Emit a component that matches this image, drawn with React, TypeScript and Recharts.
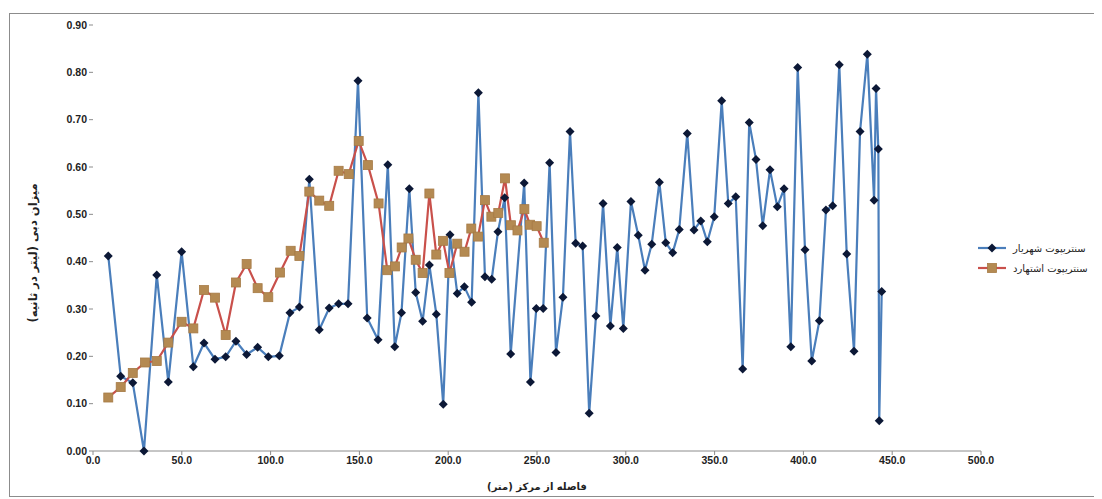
import { LineChart, Line, XAxis, YAxis } from 'recharts';

// distance from centre (m) and flow (l/s)
const shahriarDist = [
  8.6, 15.6, 22.4, 28.7, 35.9, 42.4, 49.9, 56.5, 62.5, 68.7, 74.7, 80.5, 86.5, 92.7, 98.7, 104.9, 110.9,
  116.2, 121.8, 127.4, 133.0, 138.3, 143.6, 149.2, 154.4, 160.5, 166.0, 169.9, 173.7, 178.1, 181.7, 185.6,
  189.4, 193.3, 197.2, 201.0, 205.1, 209.1, 213.2, 217.0, 220.7, 224.5, 228.0, 231.8, 235.2, 242.8, 246.3,
  249.6, 253.5, 257.1, 260.7, 264.6, 268.6, 271.8, 275.7, 279.4, 283.2, 287.2, 291.3, 295.2, 298.6, 302.9,
  307.0, 310.8, 314.6, 318.9, 322.5, 326.4, 330.1, 334.6, 338.4, 342.2, 345.9, 349.8, 354.0, 357.7, 361.9,
  365.8, 369.5, 373.3, 377.1, 381.2, 385.3, 389.1, 392.9, 396.8, 400.9, 404.7, 409.0, 412.7, 416.5, 420.2,
  424.4, 428.5, 431.9, 436.0, 439.8, 440.9, 442.2, 442.7, 444.1,
];
const shahriarFlow = [
  0.412, 0.158, 0.144, 0.0, 0.372, 0.146, 0.421, 0.178, 0.228, 0.194, 0.199, 0.232, 0.204, 0.219, 0.199,
  0.201, 0.292, 0.304, 0.574, 0.256, 0.302, 0.311, 0.311, 0.782, 0.281, 0.235, 0.605, 0.22, 0.292, 0.554,
  0.335, 0.274, 0.393, 0.289, 0.099, 0.457, 0.333, 0.347, 0.314, 0.757, 0.368, 0.363, 0.463, 0.535, 0.205,
  0.566, 0.146, 0.301, 0.301, 0.609, 0.208, 0.325, 0.675, 0.439, 0.433, 0.08, 0.285, 0.523, 0.264, 0.43,
  0.259, 0.527, 0.456, 0.382, 0.437, 0.568, 0.44, 0.419, 0.468, 0.671, 0.467, 0.486, 0.442, 0.495, 0.74,
  0.523, 0.537, 0.173, 0.694, 0.616, 0.476, 0.594, 0.516, 0.554, 0.22, 0.81, 0.425, 0.19, 0.275, 0.509,
  0.518, 0.816, 0.416, 0.211, 0.675, 0.838, 0.53, 0.766, 0.638, 0.064, 0.337,
];

const eshtehardDist = [
  8.6, 15.6, 22.4, 29.3, 35.9, 42.4, 49.9, 56.5, 62.5, 68.7, 74.7, 80.5, 86.5, 92.7, 98.7, 105.3, 111.3,
  116.2, 121.8, 127.4, 133.0, 138.3, 144.0, 149.6, 154.8, 160.8, 165.7, 170.0, 173.8, 177.6, 181.7, 185.6,
  189.4, 193.3, 197.1, 200.7, 205.1, 209.2, 213.0, 216.8, 220.7, 224.3, 228.2, 232.0, 235.3, 239.0, 242.9,
  246.1, 249.8, 253.8,
];
const eshtehardFlow = [
  0.113, 0.135, 0.165, 0.187, 0.19, 0.229, 0.273, 0.259, 0.34, 0.324, 0.245, 0.356, 0.395, 0.344, 0.325,
  0.377, 0.423, 0.412, 0.548, 0.529, 0.518, 0.592, 0.585, 0.655, 0.604, 0.523, 0.382, 0.39, 0.43, 0.449,
  0.404, 0.376, 0.544, 0.415, 0.444, 0.376, 0.438, 0.421, 0.47, 0.453, 0.53, 0.495, 0.503, 0.576, 0.477,
  0.466, 0.511, 0.478, 0.475, 0.44,
];

const xTicks = [0, 50, 100, 150, 200, 250, 300, 350, 400, 450, 500];
const yTicks = [0, 0.1, 0.2, 0.3, 0.4, 0.5, 0.6, 0.7, 0.8, 0.9];

const seriesNames = ['سنتریپوت شهریار', 'سنتریپوت اشتهارد'];
const xTitle = 'فاصله از مرکز (متر)';
const yTitle = 'میزان دبی (لیتر در ثانیه)';

const shahriar = shahriarDist.map((x, i) => ({ x, y: shahriarFlow[i] }));
const eshtehard = eshtehardDist.map((x, i) => ({ x, y: eshtehardFlow[i] }));

const BLUE = '#4a7ebb';
const RED = '#c9504b';
const NAVY = '#0c1836';
const TAN = '#b48a52';

const Diamond = (props: any) => {
  const { cx, cy, index } = props;
  if (cx == null || cy == null) return <g key={`d${index}`} />;
  const r = 4.5;
  return (
    <path
      key={`d${index}`}
      d={`M${cx},${cy - r}L${cx + r},${cy}L${cx},${cy + r}L${cx - r},${cy}Z`}
      fill={NAVY}
    />
  );
};

const Square = (props: any) => {
  const { cx, cy, index } = props;
  if (cx == null || cy == null) return <g key={`s${index}`} />;
  return (
    <rect key={`s${index}`} x={cx - 4.5} y={cy - 4.5} width={9} height={9} fill={TAN} stroke="#a67a45" strokeWidth={0.8} />
  );
};

const tickStyle = { fontSize: 10.5, fontWeight: 700, fill: '#222', fontFamily: 'Liberation Sans, Arial, sans-serif' };
const faFont = 'DejaVu Sans, sans-serif';

export default function App() {
  return (
    <div style={{ position: 'relative', width: 1094, height: 491, background: '#fff' }}>
      <div
        style={{
          position: 'absolute',
          left: 1,
          top: 5,
          width: 1090,
          height: 484,
          border: '1px solid #8c8c8c',
          boxSizing: 'border-box',
        }}
      />
      <div style={{ position: 'absolute', left: 0, top: 0 }}>
        <LineChart width={1094} height={491} margin={{ top: 17, right: 121, left: 25, bottom: 18 }}>
          <XAxis
            dataKey="x"
            type="number"
            domain={[0, 500]}
            ticks={xTicks}
            tickFormatter={(v: number) => v.toFixed(1)}
            tick={tickStyle}
            tickSize={4}
            height={30}
            stroke="#8c8c8c"
            allowDataOverflow
            label={{
              content: ({ viewBox }: any) => (
                <text
                  x={viewBox.x + viewBox.width / 2}
                  y={478}
                  textAnchor="middle"
                  dominantBaseline="central"
                  direction="rtl"
                  fontSize={10}
                  fontWeight={700}
                  fontFamily={faFont}
                  fill="#222"
                >
                  {xTitle}
                </text>
              ),
            }}
          />
          <YAxis
            type="number"
            domain={[0, 0.9]}
            ticks={yTicks}
            tickFormatter={(v: number) => v.toFixed(2)}
            tick={tickStyle}
            tickSize={4}
            width={60}
            stroke="#8c8c8c"
            axisLine={false}
            label={{
              content: () => (
                <text
                  x={25}
                  y={245}
                  transform="rotate(-90, 25, 245)"
                  textAnchor="middle"
                  dominantBaseline="central"
                  direction="rtl"
                  fontSize={11.5}
                  fontWeight={700}
                  fontFamily={faFont}
                  fill="#222"
                >
                  {yTitle}
                </text>
              ),
            }}
          />
          <Line
            data={shahriar}
            dataKey="y"
            name={seriesNames[0]}
            type="linear"
            stroke={BLUE}
            strokeWidth={2.2}
            dot={Diamond}
            activeDot={false}
            isAnimationActive={false}
          />
          <Line
            data={eshtehard}
            dataKey="y"
            name={seriesNames[1]}
            type="linear"
            stroke={RED}
            strokeWidth={2.2}
            dot={Square}
            activeDot={false}
            isAnimationActive={false}
          />
        </LineChart>
      </div>
      <div style={{ position: 'absolute', left: 969, top: 230, fontFamily: faFont, fontSize: 10, color: '#222' }}>
        <div style={{ display: 'flex', alignItems: 'center', height: 20 }}>
          <svg width={30} height={12}>
            <line x1={1} y1={6} x2={29} y2={6} stroke={BLUE} strokeWidth={2.2} />
            <path d="M15,1.5L19.5,6L15,10.5L10.5,6Z" fill={NAVY} />
          </svg>
          <span style={{ marginLeft: 6, direction: 'rtl' }}>{seriesNames[0]}</span>
        </div>
        <div style={{ display: 'flex', alignItems: 'center', height: 20 }}>
          <svg width={30} height={12}>
            <line x1={1} y1={6} x2={29} y2={6} stroke={RED} strokeWidth={2.2} />
            <rect x={10.5} y={1.5} width={9} height={9} fill={TAN} stroke="#a67a45" strokeWidth={0.8} />
          </svg>
          <span style={{ marginLeft: 6, direction: 'rtl' }}>{seriesNames[1]}</span>
        </div>
      </div>
    </div>
  );
}
